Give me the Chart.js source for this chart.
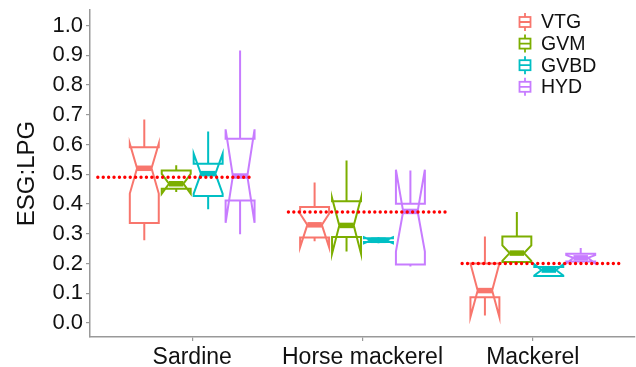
<!DOCTYPE html>
<html lang="en">
<head>
<meta charset="UTF-8">
<title>ESG:LPG by species</title>
<script src="https://cdn.jsdelivr.net/npm/chart.js"></script>
<style>
  body { margin: 0; background: #fff; }
  #wrap { width: 636px; height: 367px; }
</style>
</head>
<body>
<div id="wrap"><canvas id="esgChart"></canvas></div>
<script>
const categories = ["Sardine", "Horse mackerel", "Mackerel"];
const groups = ["VTG", "GVM", "GVBD", "HYD"];
const colours = ["#F8766D", "#7CAE00", "#00BFC4", "#C77CFF"];
const yTicks = [0, 0.1, 0.2, 0.3, 0.4, 0.5, 0.6, 0.7, 0.8, 0.9, 1.0];

// one row per species: [whisker low, Q1, median, Q3, whisker high, notch low, notch high]
const vtgStats = [
  [0.278, 0.336, 0.520, 0.591, 0.684, 0.435, 0.603],
  [0.275, 0.287, 0.330, 0.390, 0.472, 0.255, 0.367],
  [0.025, 0.087, 0.109, 0.200, 0.291, 0.020, 0.200]
];
const gvmStats = [
  [0.440, 0.451, 0.468, 0.513, 0.530, 0.435, 0.501],
  [0.240, 0.289, 0.328, 0.409, 0.546, 0.233, 0.420],
  [0.200, 0.205, 0.235, 0.291, 0.373, 0.209, 0.261]
];
const gvbdStats = [
  [0.382, 0.427, 0.502, 0.535, 0.644, 0.435, 0.569],
  [0.268, 0.272, 0.278, 0.285, 0.288, 0.268, 0.288],
  [0.158, 0.158, 0.178, 0.188, 0.190, 0.160, 0.197]
];
const hydStats = [
  [0.298, 0.412, 0.494, 0.619, 0.916, 0.337, 0.651],
  [0.190, 0.197, 0.375, 0.401, 0.513, 0.240, 0.515],
  [0.200, 0.207, 0.219, 0.233, 0.252, 0.200, 0.228]
];

// dotted reference level per species, with its start / end on the x scale
const refLevel = [0.490, 0.373, 0.200];
const refFrom = [0.446, 1.565, 2.585];
const refTo = [1.360, 2.486, 3.511];

const boxStats = [vtgStats, gvmStats, gvbdStats, hydStats];
const FONT = "'Liberation Sans', Arial, sans-serif";
const dodge = 0.1875;
const halfBox = 0.085;

const notchBoxes = {
  id: "notchBoxes",
  beforeDatasetsDraw(chart) {
    const { ctx, scales: { x, y } } = chart;
    const py = v => y.getPixelForValue(v);
    ctx.save();
    boxStats.forEach((rows, g) => {
      rows.forEach((s, c) => {
        const [wLo, q1, med, q3, wHi, nLo, nHi] = s;
        const mid = c + 1 + (g - 1.5) * dodge;
        const x0 = x.getPixelForValue(mid - halfBox);
        const x1 = x.getPixelForValue(mid + halfBox);
        const xm = x.getPixelForValue(mid);
        const ind = (x1 - x0) * 0.25;
        ctx.strokeStyle = colours[g];
        ctx.lineWidth = 2;
        ctx.lineJoin = "miter";
        ctx.beginPath();
        ctx.moveTo(xm, py(q3));
        ctx.lineTo(xm, py(wHi));
        ctx.moveTo(xm, py(q1));
        ctx.lineTo(xm, py(wLo));
        ctx.stroke();

        ctx.beginPath();
        ctx.moveTo(x0, py(q3));
        ctx.lineTo(x0, py(nHi));
        ctx.lineTo(x0 + ind, py(med));
        ctx.lineTo(x0, py(nLo));
        ctx.lineTo(x0, py(q1));
        ctx.lineTo(x1, py(q1));
        ctx.lineTo(x1, py(nLo));
        ctx.lineTo(x1 - ind, py(med));
        ctx.lineTo(x1, py(nHi));
        ctx.lineTo(x1, py(q3));
        ctx.closePath();
        ctx.fillStyle = "#fff";
        ctx.fill();
        ctx.stroke();

        ctx.lineWidth = 5.5;
        ctx.beginPath();
        ctx.moveTo(x0 + ind, py(med));
        ctx.lineTo(x1 - ind, py(med));
        ctx.stroke();
      });
    });
    ctx.restore();
  }
};

const keyLegend = {
  id: "keyLegend",
  afterDraw(chart) {
    const ctx = chart.ctx;
    ctx.save();
    groups.forEach((name, g) => {
      const cy = 22 + g * 21.6;
      const kx = 525;
      ctx.strokeStyle = colours[g];
      ctx.lineWidth = 1.8;
      ctx.beginPath();
      ctx.moveTo(kx, cy - 9);
      ctx.lineTo(kx, cy - 5);
      ctx.moveTo(kx, cy + 5);
      ctx.lineTo(kx, cy + 9);
      ctx.moveTo(kx - 5.5, cy);
      ctx.lineTo(kx + 5.5, cy);
      ctx.stroke();
      ctx.strokeRect(kx - 5.5, cy - 5, 11, 10);
      ctx.fillStyle = "#111";
      ctx.font = "19.5px " + FONT;
      ctx.textBaseline = "middle";
      ctx.fillText(name, 541, cy + 1);
    });
    ctx.restore();
  }
};

const refSets = refLevel.map((lvl, i) => ({
  label: "ref " + categories[i],
  data: [{ x: refFrom[i], y: lvl }, { x: refTo[i], y: lvl }],
  showLine: true,
  pointRadius: 0,
  borderColor: "#ff0000",
  borderWidth: 3.4,
  borderDash: [0, 5.4],
  borderCapStyle: "round"
}));

new Chart(document.getElementById("esgChart"), {
  type: "scatter",
  data: { datasets: refSets },
  options: {
    responsive: true,
    maintainAspectRatio: false,
    animation: false,
    layout: { padding: { top: 10, right: 1, left: 0, bottom: 0 } },
    plugins: { legend: { display: false }, tooltip: { enabled: false } },
    scales: {
      x: {
        type: "linear",
        min: 0.4,
        max: 3.6,
        afterBuildTicks: s => { s.ticks = categories.map((_, i) => ({ value: i + 1 })); },
        afterFit: s => { s.height = 30; s.paddingLeft = 0; s.paddingRight = 0; },
        ticks: {
          callback: v => categories[Math.round(v) - 1],
          font: { family: FONT, size: 23 },
          color: "#111",
          padding: 3,
          maxRotation: 0,
          autoSkip: false
        },
        grid: { drawOnChartArea: false, tickLength: 4, color: "#999", lineWidth: 1.2 },
        border: { color: "#999", width: 1.5 }
      },
      y: {
        min: -0.047,
        max: 1.052,
        afterBuildTicks: s => { s.ticks = yTicks.map(v => ({ value: v })); },
        afterFit: s => { s.width = 90; s.paddingTop = 0; s.paddingBottom = 0; },
        ticks: {
          callback: v => v.toFixed(1),
          font: { family: FONT, size: 22 },
          color: "#111",
          padding: 3
        },
        title: {
          display: true,
          text: "ESG:LPG",
          font: { family: FONT, size: 24 },
          color: "#111",
          padding: { top: 13, bottom: 0 }
        },
        grid: { drawOnChartArea: false, tickLength: 4, color: "#999", lineWidth: 1.2 },
        border: { color: "#999", width: 1.5 }
      }
    }
  },
  plugins: [notchBoxes, keyLegend]
});
</script>
</body>
</html>
